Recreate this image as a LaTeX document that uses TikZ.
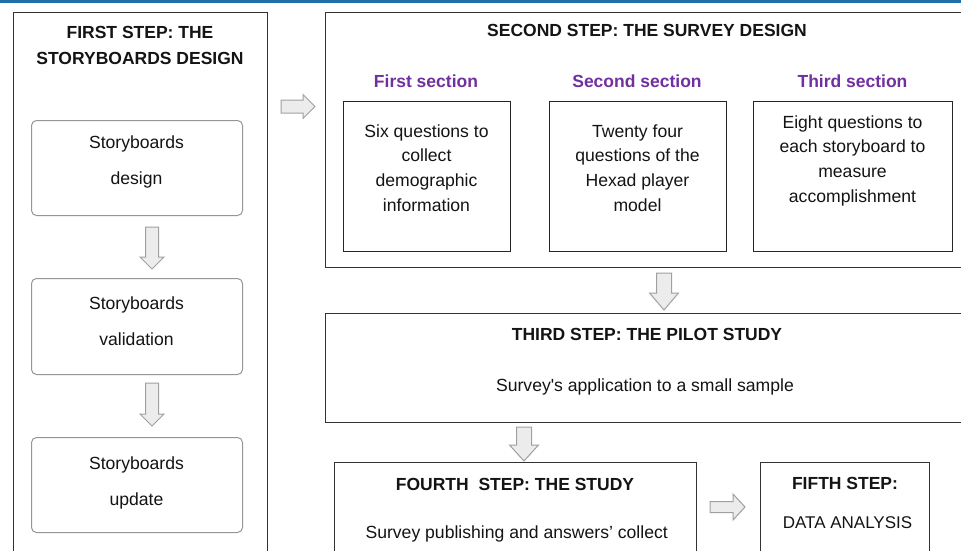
\documentclass[tikz,border=0pt]{standalone}
\usepackage{fontspec}
\setmainfont{Liberation Sans}
\definecolor{topblue}{RGB}{31,111,168}
\definecolor{secpurple}{RGB}{112,48,160}
\definecolor{boxline}{RGB}{50,50,50}
\definecolor{softline}{RGB}{150,150,150}
\definecolor{arrfill}{RGB}{236,236,236}
\definecolor{arrline}{RGB}{160,160,160}
\definecolor{ink}{RGB}{20,20,20}
\newcommand\tstr{\rule{0pt}{13pt}}
% cx, ytop, ytip, shaft half width, head half width, head length
\newcommand\dnblock[6]{%
  \draw[blockarrow] (#1-#4,#2) -- (#1+#4,#2) -- (#1+#4,#3-#6) -- (#1+#5,#3-#6)
    -- (#1,#3) -- (#1-#5,#3-#6) -- (#1-#4,#3-#6) -- cycle;}
% xleft, xtip, cy, shaft half height, head half height, head length
\newcommand\rtblock[6]{%
  \draw[blockarrow] (#1,#3-#4) -- (#2-#6,#3-#4) -- (#2-#6,#3-#5) -- (#2,#3)
    -- (#2-#6,#3+#5) -- (#2-#6,#3+#4) -- (#1,#3+#4) -- cycle;}
\tikzset{
  stepbox/.style={draw=boxline, line width=1.3pt, inner sep=0pt, anchor=north west},
  sbbox/.style={draw=softline, line width=1pt, rounded corners=5pt, inner sep=0pt, anchor=north west},
  secbox/.style={draw=black!85, line width=1.3pt, inner sep=0pt, anchor=north west},
  ttl/.style={font=\fontsize{17.5}{25}\selectfont\bfseries, text=ink, inner sep=0pt, anchor=base},
  body/.style={font=\fontsize{17.6}{24.6}\selectfont, text=ink, inner sep=0pt, anchor=north, align=center},
  sbtext/.style={font=\fontsize{17.6}{36.5}\selectfont, text=ink, inner sep=0pt, anchor=north, align=center},
  sec/.style={font=\fontsize{17.5}{21}\selectfont\bfseries, text=secpurple, inner sep=0pt, anchor=base},
  blockarrow/.style={draw=arrline, fill=arrfill, line width=1pt, line join=miter},
}
\begin{document}
\begin{tikzpicture}[x=1pt,y=-1pt]
\useasboundingbox (0,0) rectangle (961,551);
\clip (0,0) rectangle (961,551);
\fill[white] (0,0) rectangle (961,551);
\fill[topblue] (0,0) rectangle (961,3.5);

% first step
\node[stepbox, minimum width=254pt, minimum height=600pt] (s1) at (13,12) {};
\node[ttl] (t1a) at (140,39) {FIRST STEP: THE};
\node[ttl] (t1b) at (140,64) {STORYBOARDS DESIGN};
\node[sbbox, minimum width=211pt, minimum height=95pt] (sb1) at (31,120) {};
\node[sbbox, minimum width=211pt, minimum height=96pt] (sb2) at (31,278) {};
\node[sbbox, minimum width=211pt, minimum height=95pt] (sb3) at (31,437) {};
\node[sbtext] (sb1t) at (136.5,135) {\tstr Storyboards\\design};
\node[sbtext] (sb2t) at (136.5,296) {\tstr Storyboards\\validation};
\node[sbtext] (sb3t) at (136.5,456) {\tstr Storyboards\\update};
\dnblock{152}{227}{269}{6.5}{12}{12}
\dnblock{152}{383}{426}{6.5}{12}{12}

% arrow to second step
\rtblock{281}{315}{106.5}{6.5}{12}{12}

% second step
\node[stepbox, minimum width=660pt, minimum height=255pt] (s2) at (325,12) {};
\node[ttl] (t2) at (647,37) {SECOND STEP: THE SURVEY DESIGN};
\node[sec] (sec1) at (426,87) {First section};
\node[sec] (sec2) at (637,87) {Second section};
\node[sec] (sec3) at (852.5,87) {Third section};
\node[secbox, minimum width=167pt, minimum height=150pt] (q1) at (343,101) {};
\node[secbox, minimum width=177pt, minimum height=150pt] (q2) at (549,101) {};
\node[secbox, minimum width=199pt, minimum height=150pt] (q3) at (753,101) {};
\node[body] (q1t) at (426.5,124) {\tstr Six questions to\\collect\\demographic\\information};
\node[body] (q2t) at (637.5,124) {\tstr Twenty four\\questions of the\\Hexad player\\model};
\node[body] (q3t) at (852.5,115) {\tstr Eight questions to\\each storyboard to\\measure\\accomplishment};

\dnblock{664}{273}{310}{7.5}{14.5}{17}

% third step
\node[stepbox, minimum width=660pt, minimum height=109pt] (s3) at (325,313) {};
\node[ttl] (t3) at (647,340) {THIRD STEP: THE PILOT STUDY};
\node[body, anchor=base] (b3) at (645,391) {Survey\textquotesingle s application to a small sample};

\dnblock{524}{427}{461}{7.5}{14.5}{16}

% fourth step
\node[stepbox, minimum width=362pt, minimum height=150pt] (s4) at (334,462) {};
\node[ttl] (t4) at (515,490) {FOURTH\ \ STEP: THE STUDY};
\node[body, anchor=base] (b4) at (516.7,538) {Survey publishing and answers' collect};

\rtblock{710}{745}{507}{5.5}{13}{12}

% fifth step
\node[stepbox, minimum width=169pt, minimum height=150pt] (s5) at (760,462) {};
\node[ttl] (t5) at (845,489) {FIFTH STEP:};
\node[body, anchor=base, font=\fontsize{17}{20}\selectfont] (b5) at (847.5,528) {DATA ANALYSIS};
\end{tikzpicture}
\end{document}
